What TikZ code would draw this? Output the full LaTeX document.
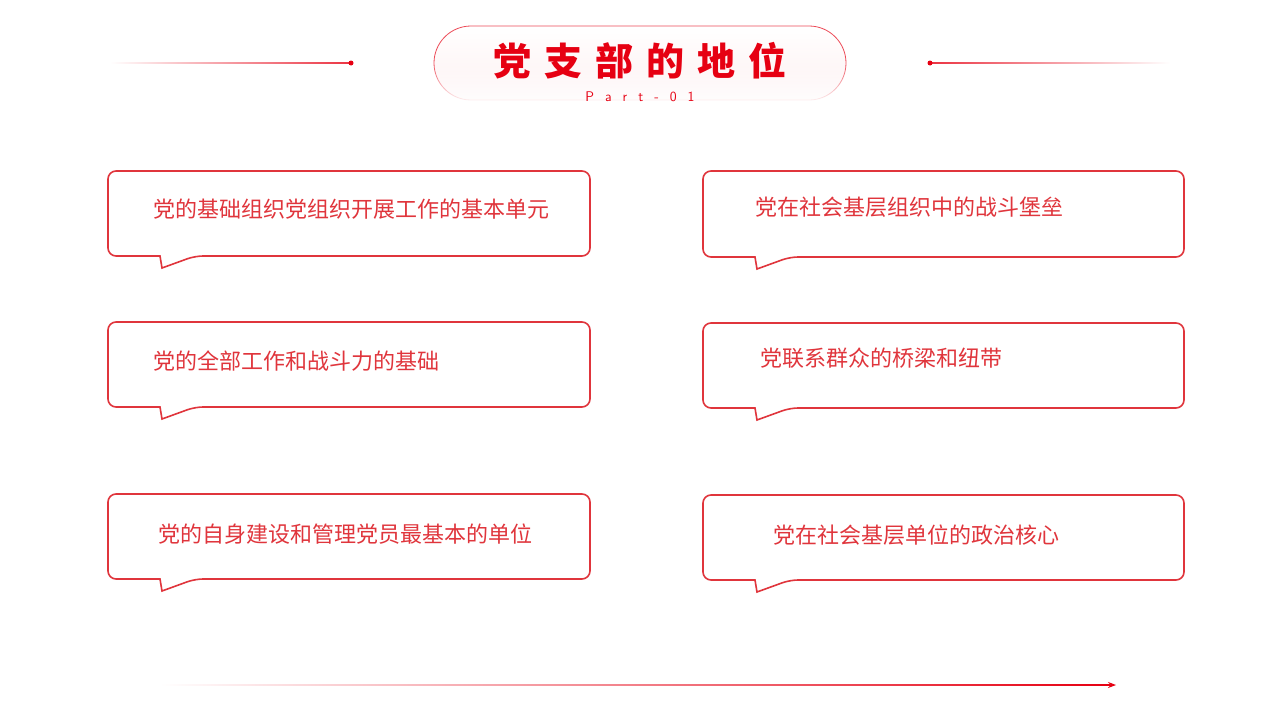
\documentclass[tikz,border=0pt]{standalone}
\usepackage{fontspec}
\newfontfamily\cjk{Noto Sans CJK SC}
\newfontfamily\cjkb{Noto Sans CJK SC Black}
\usetikzlibrary{arrows.meta,fadings}
\definecolor{tred}{HTML}{E60012}
\definecolor{bred}{HTML}{E0353C}
\tikzset{x=1pt,y=-1pt,
 bubble/.style={draw=bred,line width=1.6pt,fill=white},
 btext/.style={anchor=west,text=bred,font=\cjk\fontsize{22}{24}\selectfont,inner sep=0pt}}
\newcommand{\bub}[4]{% x1 x2 ytop ybottom
 \draw[bubble] (#1+52,#4) [rounded corners=8pt] -- (#1,#4) -- (#1,#3) -- (#2,#3) -- (#2,#4) -- (#1+87,#4) [sharp corners] -- (#1+54,#4+12) -- cycle;}
\begin{document}
\begin{tikzpicture}
\useasboundingbox (0,0) rectangle (1280,720);
\fill[white] (0,0) rectangle (1280,720);
% header lines
\shade[left color=white,right color=tred!80] (110,62.5) rectangle (351,63.5);
\fill[tred] (351,63) circle (2.5);
\shade[left color=tred!80,right color=white] (930,62.5) rectangle (1170,63.5);
\fill[tred] (930,63) circle (2.5);
% pill
\shade[top color=white,bottom color=tred!6,rounded corners=37pt] (434,26) rectangle (846,100);
\draw[tred!70,line width=0.8pt,rounded corners=37pt] (434,26) rectangle (846,100);
\fill[white,path fading=north] (428,62) rectangle (852,104);
\node (title) at (640,61) {\cjkb\fontsize{38}{40}\selectfont\color{tred}党\hspace{13pt}支\hspace{13pt}部\hspace{13pt}的\hspace{13pt}地\hspace{13pt}位};
\node (part) at (640,97) {\fontsize{14}{14}\selectfont\sffamily\color{tred}P\hspace{11pt}a\hspace{11pt}r\hspace{11pt}t\hspace{11pt}-\hspace{11pt}0\hspace{11pt}1};
% bubbles
\bub{108}{590}{171}{256}
\bub{108}{590}{322}{407}
\bub{108}{590}{494}{579}
\bub{703}{1184}{171}{257}
\bub{703}{1184}{323}{408}
\bub{703}{1184}{495}{580}
\node[btext] (t1) at (153,209) {党的基础组织党组织开展工作的基本单元};
\node[btext] (t2) at (153,361) {党的全部工作和战斗力的基础};
\node[btext] (t3) at (158,534) {党的自身建设和管理党员最基本的单位};
\node[btext] (t4) at (755,207) {党在社会基层组织中的战斗堡垒};
\node[btext] (t5) at (760,358) {党联系群众的桥梁和纽带};
\node[btext] (t6) at (773,535) {党在社会基层单位的政治核心};
% bottom arrow
\shade[left color=white,right color=tred] (160,684.6) rectangle (1110,685.6);
\coordinate (ae) at (1116,685);
\coordinate (as) at (1105,685);
\draw[tred,line width=1pt,-{Stealth[length=8pt,width=6pt]}] (as) -- (ae);
\end{tikzpicture}
\end{document}
